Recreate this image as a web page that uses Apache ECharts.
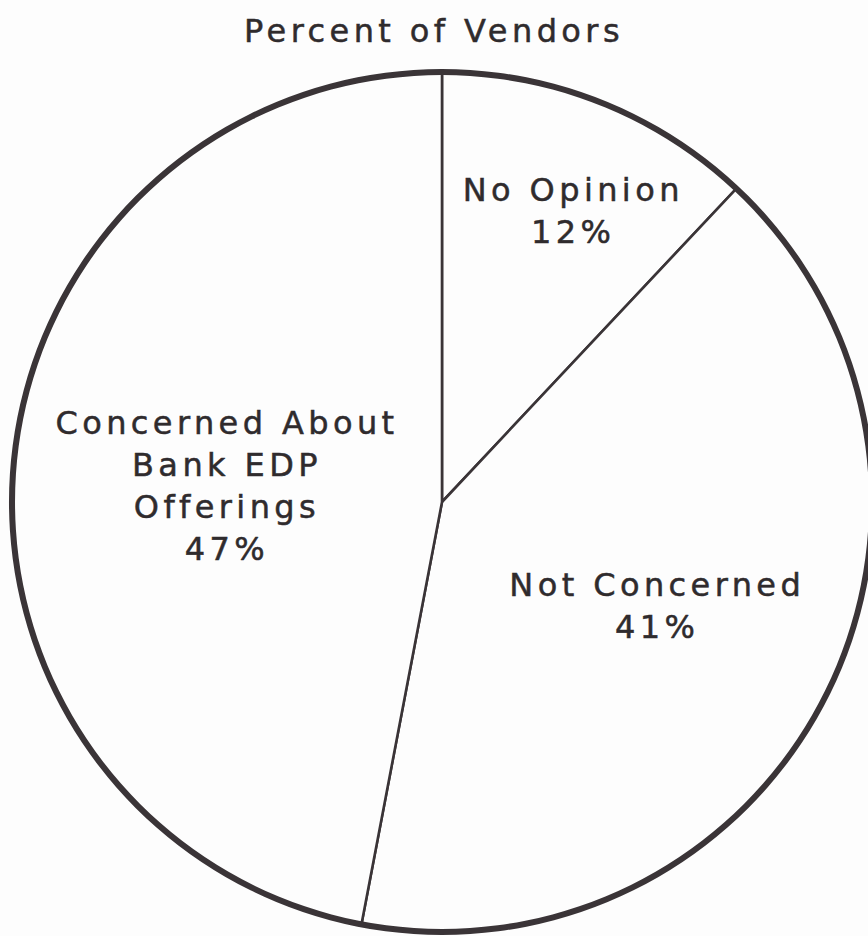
<!DOCTYPE html>
<html>
<head>
<meta charset="utf-8">
<script src="https://cdn.jsdelivr.net/npm/echarts@6/dist/echarts.min.js"></script>
<style>
  html, body { margin: 0; padding: 0; background: #fdfdfd; }
  #chart { width: 868px; height: 936px; }
  /* typewriter-like spacing between letters */
  #chart text { letter-spacing: 4.4px; }
</style>
</head>
<body>
<div id="chart"></div>
<script>
// Vendor opinions, clockwise from 12 o'clock
const categories = ['No Opinion', 'Not Concerned', 'Concerned About\nBank EDP\nOfferings'];
const percents = [12, 41, 47];
const chartTitle = 'Percent of Vendors';

// label nudges away from the default mid-radius spot
const labelShift = [[51, -88], [21, 5], [2, 5]];

const ink = '#3a3437';
const textInk = '#2f2b2d';
const center = [442, 502];
const R = 430;

const chart = echarts.init(document.getElementById('chart'), null, { renderer: 'svg' });
chart.setOption({
  backgroundColor: '#fdfdfd',
  animation: false,
  title: {
    text: chartTitle,
    left: 'center',
    top: 10,
    textStyle: {
      fontFamily: 'DejaVu Sans', fontSize: 32, fontWeight: 'normal', color: textInk,
      textBorderColor: textInk, textBorderWidth: 0.5
    }
  },
  series: [
    {
      type: 'pie',
      center: center,
      radius: [0, R],
      startAngle: 90,
      clockwise: true,
      silent: true,
      data: categories.map((c, i) => ({ name: c, value: percents[i] })),
      itemStyle: { color: '#fdfdfd', borderColor: ink, borderWidth: 2.6 },
      label: {
        show: true,
        position: 'inside',
        formatter: p => p.name + '\n' + p.value + '%',
        fontFamily: 'DejaVu Sans',
        fontSize: 32,
        lineHeight: 42,
        color: textInk,
        textBorderColor: textInk,
        textBorderWidth: 0.5,
        align: 'center'
      },
      labelLine: { show: false },
      labelLayout: p => ({ dx: labelShift[p.dataIndex][0], dy: labelShift[p.dataIndex][1] }),
      emphasis: { disabled: true }
    },
    {
      // heavier outer rim
      type: 'pie',
      center: center,
      radius: [R - 3, R + 3],
      silent: true,
      data: [{ name: 'rim', value: 1 }],
      itemStyle: { color: ink, borderWidth: 0 },
      label: { show: false },
      labelLine: { show: false },
      emphasis: { disabled: true }
    }
  ]
});
</script>
</body>
</html>
